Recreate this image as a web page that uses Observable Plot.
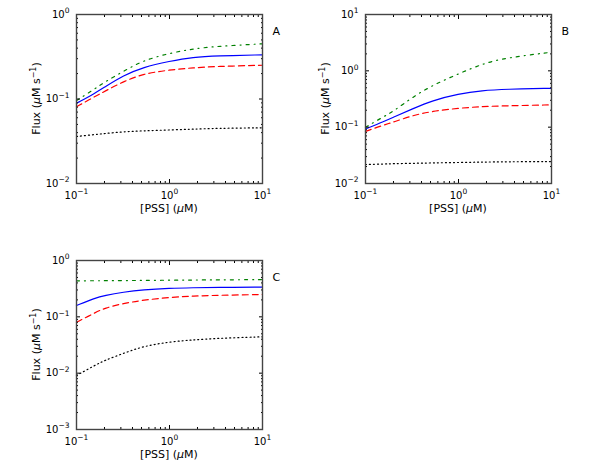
<!DOCTYPE html>
<html><head><meta charset="utf-8">
<script src="https://cdn.jsdelivr.net/npm/d3@7"></script>
<script src="https://cdn.jsdelivr.net/npm/@observablehq/plot@0.6"></script>
<style>
body{margin:0;background:#fff}
#wrap{position:relative;width:600px;height:467px;font-family:"DejaVu Sans",sans-serif}
.panel{position:absolute}
</style>
</head><body><div id="wrap"></div>
<script>
// [PSS] (µM) sample points
const pss = [0.1, 0.158, 0.2, 0.32, 0.52, 1, 1.8, 3.2, 10];

// Panel A
const greenA = [0.096, 0.132, 0.158, 0.213, 0.286, 0.348, 0.393, 0.42, 0.45];
const blueA  = [0.089, 0.117, 0.138, 0.19, 0.238, 0.28, 0.313, 0.324, 0.333];
const redA   = [0.081, 0.107, 0.123, 0.161, 0.199, 0.221, 0.234, 0.243, 0.251];
const blackA = [0.036, 0.038, 0.039, 0.041, 0.042, 0.043, 0.044, 0.045, 0.0456];

// Panel B
const greenB = [0.1, 0.155, 0.192, 0.34, 0.55, 0.885, 1.33, 1.70, 2.14];
const blueB  = [0.093, 0.126, 0.15, 0.211, 0.297, 0.39, 0.448, 0.473, 0.49];
const redB   = [0.084, 0.110, 0.123, 0.161, 0.192, 0.217, 0.233, 0.239, 0.249];
const blackB = [0.0217, 0.0222, 0.0225, 0.0228, 0.0232, 0.0236, 0.024, 0.0243, 0.0245];

// Panel C
const greenC = [0.436, 0.437, 0.438, 0.44, 0.443, 0.447, 0.45, 0.453, 0.458];
const blueC  = [0.159, 0.215, 0.239, 0.275, 0.303, 0.322, 0.329, 0.333, 0.336];
const redC   = [0.080, 0.118, 0.143, 0.173, 0.198, 0.222, 0.234, 0.241, 0.249];
const blackC = [0.0091, 0.0138, 0.0168, 0.0225, 0.030, 0.036, 0.039, 0.0415, 0.0442];

const xTicks = [0.1, 1, 10];
const yTicksA = [0.01, 0.1, 1];
const yTicksB = [0.01, 0.1, 1, 10];
const yTicksC = [0.001, 0.01, 0.1, 1];
const letters = ["A", "B", "C"];

const styles = [
  {color: "#008000", dash: "3,5,1,5"},
  {color: "#0000ff", dash: null},
  {color: "#ff0000", dash: "6,4"},
  {color: "#000000", dash: "1,3"}
];

const fmt = d => "10^" + Math.round(Math.log10(d));

function minors(majors) {
  const out = [];
  for (let i = 0; i < majors.length - 1; i++)
    for (let k = 2; k <= 9; k++) out.push(majors[i] * k);
  return out;
}

function panel({left, top, width, height, mL, mR, mT, mB, yTicks, series, letter}) {
  const data = [];
  series.forEach((vals, si) => pss.forEach((x, i) => data.push({s: si, x, y: vals[i]})));
  const xm = minors(xTicks), ym = minors(yTicks);
  const blank = () => "";
  const marks = [];
  series.forEach((vals, si) => {
    marks.push(Plot.line(data.filter(d => d.s === si), {
      x: "x", y: "y", stroke: styles[si].color, strokeWidth: 1.2,
      strokeDasharray: styles[si].dash, curve: "basis"
    }));
  });
  marks.push(
    Plot.axisX(xTicks, {anchor: "bottom", tickSize: -4, tickPadding: 12, tickFormat: fmt, fontSize: 10, label: null}),
    Plot.axisX(xm, {anchor: "bottom", tickSize: -2, tickFormat: blank, label: null}),
    Plot.axisX(xTicks, {anchor: "top", tickSize: -4, tickFormat: blank, label: null}),
    Plot.axisX(xm, {anchor: "top", tickSize: -2, tickFormat: blank, label: null}),
    Plot.axisY(yTicks, {anchor: "left", tickSize: -4, tickPadding: 11, tickFormat: fmt, fontSize: 10, label: null}),
    Plot.axisY(ym, {anchor: "left", tickSize: -2, tickFormat: blank, label: null}),
    Plot.axisY(yTicks, {anchor: "right", tickSize: -4, tickFormat: blank, label: null}),
    Plot.axisY(ym, {anchor: "right", tickSize: -2, tickFormat: blank, label: null}),
    Plot.frame({stroke: "#444", strokeWidth: 1.4}),
    Plot.text([letter], {frameAnchor: "top-right", dx: 10, dy: 17, textAnchor: "start", lineAnchor: "middle", fontSize: 11})
  );
  const svg = Plot.plot({
    width, height, marginLeft: mL, marginRight: mR, marginTop: mT, marginBottom: mB,
    style: {fontFamily: "DejaVu Sans", fontSize: "11px", background: "white", overflow: "visible", color: "black"},
    x: {type: "log", domain: [0.1, 10]},
    y: {type: "log", domain: [yTicks[0], yTicks[yTicks.length - 1]]},
    marks
  });
  const g = d3.select(svg);
  // turn "10^e" tick labels into 10 with a raised exponent
  g.selectAll("text").each(function() {
    const t = this.textContent;
    if (!t.includes("^")) return;
    const [base, ex] = t.split("^");
    const el = d3.select(this);
    el.text(null);
    el.append("tspan").text(base);
    el.append("tspan").attr("font-size", 7.5).attr("dy", -4.5).text(ex.replace("-", "\u2212"));
  });
  const cx = mL + (width - mL - mR) / 2;
  const cy = mT + (height - mT - mB) / 2;
  // x label
  const xl = g.append("text").attr("x", cx).attr("y", height - mB + 29)
    .attr("text-anchor", "middle").attr("font-size", 11).attr("fill", "black");
  xl.append("tspan").text("[PSS] (");
  xl.append("tspan").attr("font-style", "italic").text("\u03BC");
  xl.append("tspan").text("M)");
  // y label
  const yl = g.append("text").attr("transform", `translate(${mL - 36},${cy}) rotate(-90)`)
    .attr("text-anchor", "middle").attr("font-size", 11).attr("fill", "black");
  yl.append("tspan").text("Flux (");
  yl.append("tspan").attr("font-style", "italic").text("\u03BC");
  yl.append("tspan").text("M s");
  yl.append("tspan").attr("font-size", 8).attr("dy", -4).text("\u22121");
  yl.append("tspan").attr("dy", 4).text(")");
  svg.classList.add("panel");
  svg.style.left = left + "px";
  svg.style.top = top + "px";
  svg.style.position = "absolute";
  document.getElementById("wrap").appendChild(svg);
}

panel({left: 0, top: 0, width: 300, height: 220, mL: 76, mR: 38, mT: 14, mB: 37,
  yTicks: yTicksA, series: [greenA, blueA, redA, blackA], letter: letters[0]});
panel({left: 300, top: 0, width: 300, height: 220, mL: 65, mR: 49, mT: 14, mB: 37,
  yTicks: yTicksB, series: [greenB, blueB, redB, blackB], letter: letters[1]});
panel({left: 0, top: 220, width: 300, height: 247, mL: 76, mR: 38, mT: 40, mB: 38,
  yTicks: yTicksC, series: [greenC, blueC, redC, blackC], letter: letters[2]});
</script>
</body></html>
